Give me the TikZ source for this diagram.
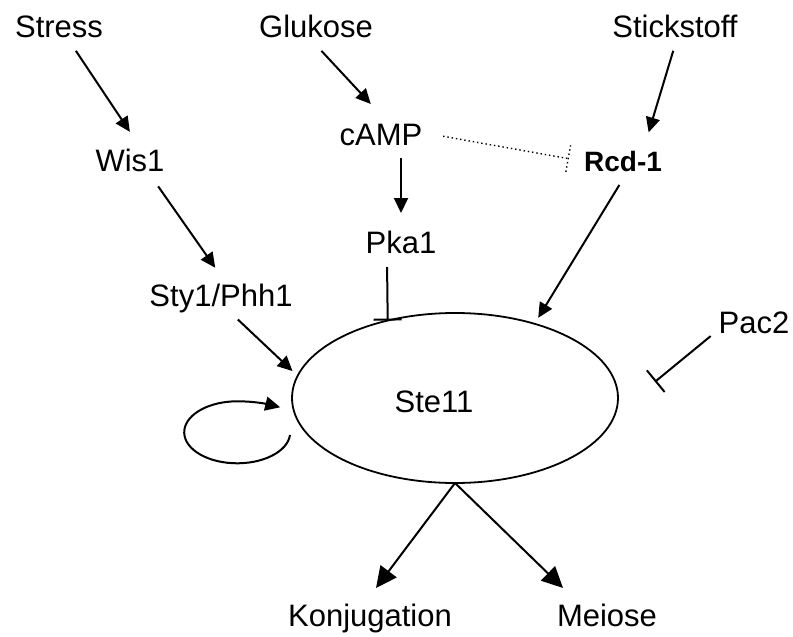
\documentclass[tikz,border=0pt]{standalone}
\usepackage{fontspec}
\setmainfont{Liberation Sans}
\usetikzlibrary{arrows.meta,shapes.geometric,calc}
\tikzstyle{txt}=[font=\fontsize{31}{37}\selectfont, inner sep=8pt, outer sep=0pt, text height=22pt, text depth=0pt]
\tikzstyle{cell}=[ellipse, draw, line width=1.8pt, minimum width=326pt, minimum height=170pt, inner sep=0pt, outer sep=0pt]
\tikzstyle{act}=[line width=2pt, -{Triangle[length=15pt,width=14pt]}]
\tikzstyle{bigact}=[line width=2pt, -{Triangle[length=21pt,width=20pt]}]
\tikzstyle{inh}=[line width=2pt, -{Bar[width=28pt]}]
\tikzstyle{dots}=[line width=1.4pt, dash pattern=on 1.4pt off 2.9pt]

\begin{document}
\begin{tikzpicture}[x=1pt, y=-1pt]
  \useasboundingbox (0,0) rectangle (793,637);

  % Signale und Regulatoren
  \foreach \x/\y/\name/\label in {59/26/stress/Stress, 316/26/glukose/Glukose, 675/26/stick/Stickstoff, 130/160/wis1/Wis1, 381/134/camp/cAMP, 401/242/pka1/Pka1, 754/322/pac2/Pac2, 370/615/konj/Konjugation, 607/615/meiose/Meiose}
    \node[txt] (\name) at (\x,\y) {\label};
  \node[txt] (sty) at (221,295) {Sty1/Phh1};
  \node[txt, font=\bfseries\fontsize{28}{34}\selectfont] (rcd) at (623,160) {Rcd-1};

  % Ste11
  \node[cell] (ste) at (455,398) {};
  \node[txt] (ste11) at (434,401) {Ste11};

  % Aktivierung
  \draw[act, shorten <=7pt, shorten >=11pt] ([xshift=13pt]stress.south) -- ([xshift=6pt]wis1.north);
  \draw[act, shorten <=8pt, shorten >=15pt] (glukose.south) -- (camp.north);
  \draw[act, shorten <=6pt, shorten >=9pt] (stick.south) -- ([xshift=23pt]rcd.north);
  \draw[act, shorten <=9pt, shorten >=10pt] ([xshift=23pt]wis1.south) -- (sty.north);
  \draw[act, shorten <=5pt, shorten >=10pt] (pka1.north |- camp.south) -- (pka1.north);
  \draw[act, shorten <=8pt, shorten >=7pt] ([xshift=11pt]sty.south) -- (ste.172);
  \draw[act, shorten <=7pt, shorten >=7pt] (rcd.south) -- (ste.43);
  \draw[bigact, shorten >=10pt] (ste.south) -- (konj.north);
  \draw[bigact, shorten >=11.5pt] (ste.south) -- (meiose.152);

  % Autoregulation
  \draw[act] ([shift={(-2,37)}]ste.west) arc[start angle=-5, end angle=-270, x radius=53pt, y radius=31pt]
    .. controls +(18,0) and +(-12,-3) .. +(43,6);

  % Hemmung
  \draw[inh, shorten <=6pt] ([xshift=-14pt]pka1.south) -- (ste.131);
  \draw[inh, shorten >=52pt] (pac2.198) -- (ste.-6);
  \coordinate (dotend) at ($(rcd.west)!8pt!(camp.east)$);
  \draw[dots, shorten <=13pt] (camp.east) -- (dotend);
  \draw[dots] ($(dotend)!13.5pt!90:(camp.east)$) -- ($(dotend)!13.5pt!-90:(camp.east)$);

\end{tikzpicture}
\end{document}
